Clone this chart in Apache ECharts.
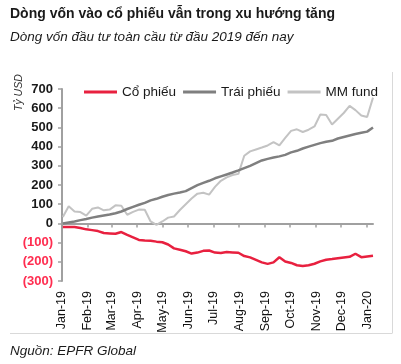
<!DOCTYPE html>
<html>
<head>
<meta charset="utf-8">
<script src="https://cdn.jsdelivr.net/npm/echarts@6/dist/echarts.min.js"></script>
<style>html,body{margin:0;padding:0;background:#fff}#c{width:401px;height:364px}</style>
</head>
<body>
<div id="c"></div>
<script>
// Weekly observation dates
var dates = ['2019-01-02','2019-01-09','2019-01-16','2019-01-23','2019-01-30','2019-02-06','2019-02-13','2019-02-20','2019-02-27','2019-03-06','2019-03-13','2019-03-20','2019-03-27','2019-04-03','2019-04-10','2019-04-17','2019-04-24','2019-05-01','2019-05-08','2019-05-15','2019-05-22','2019-05-29','2019-06-05','2019-06-12','2019-06-19','2019-06-26','2019-07-03','2019-07-10','2019-07-17','2019-07-24','2019-07-31','2019-08-07','2019-08-14','2019-08-21','2019-08-28','2019-09-04','2019-09-11','2019-09-18','2019-09-25','2019-10-02','2019-10-09','2019-10-16','2019-10-23','2019-10-30','2019-11-06','2019-11-13','2019-11-20','2019-11-27','2019-12-04','2019-12-11','2019-12-18','2019-12-25','2020-01-01','2020-01-08'];
// Cổ phiếu (equities), tỷ USD
var coPhieu = [-19,-19,-19,-24,-31,-35,-40,-50,-52,-54,-45,-60,-73,-86,-89,-90,-95,-98,-110,-130,-137,-145,-157,-152,-143,-141,-152,-154,-149,-151,-153,-170,-177,-190,-203,-211,-203,-176,-198,-206,-218,-222,-218,-210,-198,-189,-186,-182,-178,-174,-158,-176,-172,-168];
// Trái phiếu (bonds)
var traiPhieu = [0,5,10,17,23,30,36,41,46,53,62,75,86,97,107,120,128,139,148,155,161,168,184,199,211,222,235,245,255,265,276,288,300,314,328,336,343,349,357,370,378,390,400,409,418,425,430,442,450,458,466,472,478,500];
// MM fund
var mmFund = [33,89,62,59,40,76,83,68,72,94,92,45,60,72,71,10,-8,10,30,36,70,100,130,155,160,150,190,222,240,252,258,352,375,385,395,406,423,406,445,482,490,476,488,505,567,565,515,545,575,612,590,562,554,655];
// Tick labels and their month-start positions
var tickLabels = ['Jan-19','Feb-19','Mar-19','Apr-19','May-19','Jun-19','Jul-19','Aug-19','Sep-19','Oct-19','Nov-19','Dec-19','Jan-20'];
var tickDates = ['2019-01-01','2019-02-01','2019-03-01','2019-04-01','2019-05-01','2019-06-01','2019-07-01','2019-08-01','2019-09-01','2019-10-01','2019-11-01','2019-12-01','2020-01-01'];
var seriesNames = ['Cổ phiếu','Trái phiếu','MM fund'];

function P(s) { var a = s.split('-'); return Date.UTC(+a[0], +a[1] - 1, +a[2]); }
var tickVals = tickDates.map(P);
function pairs(vals) { return vals.map(function (v, i) { return [P(dates[i]), v]; }); }

var FONT = '"Liberation Sans", Arial, sans-serif';
var chart = echarts.init(document.getElementById('c'), null, {renderer: 'canvas'});
var xMin = P('2019-01-01'), xMax = P(dates[dates.length - 1]);

chart.setOption({
  animation: false,
  grid: {left: 62, top: 89, right: 28, bottom: 83},
  legend: {
    left: 79, top: 80, icon: 'rect', itemWidth: 33, itemHeight: 3, itemGap: 7,
    textStyle: {fontFamily: FONT, fontSize: 13.5, color: '#1a1a1a'},
    data: seriesNames
  },
  xAxis: [{
    type: 'value', min: xMin, max: xMax, position: 'bottom',
    axisLine: {show: false, onZero: false},
    axisTick: {show: false},
    splitLine: {show: false},
    axisLabel: {
      customValues: tickVals, rotate: 90, margin: 10,
      fontFamily: FONT, fontSize: 12.5, color: '#111',
      formatter: function (v) { var k = tickVals.indexOf(v); return k >= 0 ? tickLabels[k] : ''; }
    }
  }, {
    type: 'value', min: xMin, max: xMax, position: 'bottom',
    axisLine: {show: true, onZero: true, lineStyle: {color: '#a0a0a0', width: 2}},
    axisTick: {show: true, customValues: tickVals, length: 4, lineStyle: {color: '#a0a0a0', width: 1.5}},
    axisLabel: {show: false},
    splitLine: {show: false}
  }],
  yAxis: {
    type: 'value', min: -300, max: 700, interval: 100,
    axisLine: {show: true, onZero: false, lineStyle: {color: '#a0a0a0', width: 2}},
    axisTick: {show: true, length: 4, lineStyle: {color: '#a0a0a0', width: 1.5}},
    splitLine: {show: false},
    axisLabel: {
      margin: 9, fontFamily: FONT, fontSize: 13, fontWeight: 'bold',
      color: function (v) { return Number(v) < 0 ? '#ff2d50' : '#1a1a1a'; },
      formatter: function (v) { return v < 0 ? '(' + Math.abs(v) + ')' : String(v); }
    }
  },
  series: [
    {name: seriesNames[0], type: 'line', data: pairs(coPhieu), showSymbol: false, symbol: 'none',
     lineStyle: {color: '#e8203f', width: 2.5}, itemStyle: {color: '#e8203f'}, z: 4},
    {name: seriesNames[1], type: 'line', data: pairs(traiPhieu), showSymbol: false, symbol: 'none',
     lineStyle: {color: '#7f7f7f', width: 2.5}, itemStyle: {color: '#7f7f7f'}, z: 3},
    {name: seriesNames[2], type: 'line', data: pairs(mmFund), showSymbol: false, symbol: 'none',
     lineStyle: {color: '#c3c3c3', width: 2}, itemStyle: {color: '#c3c3c3'}, z: 2}
  ],
  graphic: [
    {type: 'text', left: 10, top: 7, style: {text: 'Dòng vốn vào cổ phiếu vẫn trong xu hướng tăng', font: 'bold 14px ' + FONT, fill: '#1a1a1a'}},
    {type: 'text', left: 10, top: 30, style: {text: 'Dòng vốn đầu tư toàn cầu từ đầu 2019 đến nay', font: 'italic 13.5px ' + FONT, fill: '#1a1a1a'}},
    {type: 'text', left: 10, top: 344, style: {text: 'Nguồn: EPFR Global', font: 'italic 13.5px ' + FONT, fill: '#1a1a1a'}},
    {type: 'text', x: 14, y: 111, rotation: Math.PI / 2, style: {text: 'Tỷ USD', font: 'italic 10.5px ' + FONT, fill: '#333'}},
    {type: 'line', shape: {x1: 392.5, y1: 72, x2: 392.5, y2: 333}, style: {stroke: '#d9d9d9', lineWidth: 1}},
    {type: 'line', shape: {x1: 10, y1: 333.5, x2: 392.5, y2: 333.5}, style: {stroke: '#d9d9d9', lineWidth: 1}}
  ]
});
</script>
</body>
</html>
